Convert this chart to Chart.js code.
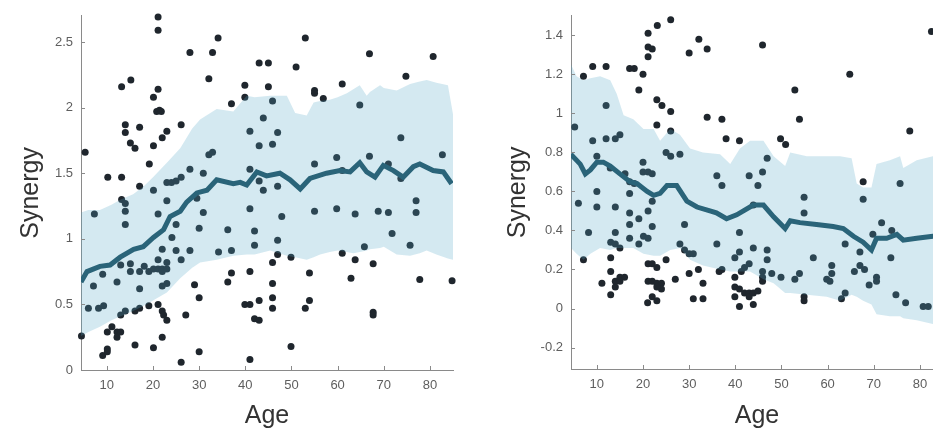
<!DOCTYPE html>
<html>
<head>
<meta charset="utf-8">
<script src="https://cdn.jsdelivr.net/npm/chart.js@4.4.1/dist/chart.umd.min.js"></script>
<style>
    html, body { margin: 0; padding: 0; background: #fff; overflow: hidden; }
    body { width: 933px; height: 428px; position: relative; }
    canvas { position: absolute; top: 0; }
    #left { left: 0; width: 470px; height: 428px; }
    #right { left: 480px; width: 480px; height: 428px; }
</style>
</head>
<body>
<canvas id="left" width="470" height="428"></canvas>
<canvas id="right" width="480" height="428"></canvas>
<script>
// Ticks
const xTicks = [10, 20, 30, 40, 50, 60, 70, 80];
const leftYTicks = [0, 0.5, 1, 1.5, 2, 2.5];
const rightYTicks = [-0.2, 0, 0.2, 0.4, 0.6, 0.8, 1, 1.2, 1.4];

// Panneau gauche : points individuels
const leftAge = [5.3, 7.3, 10.2, 13.2, 13.2, 15.2, 14.0, 14.0, 15.1, 16.1, 17.1, 17.1, 13.2, 14.0, 14.0, 19.2, 20.1, 20.1, 21.1, 21.1,
    21.1, 20.8, 21.4, 21.8, 22.0, 23.0, 20.1, 21.1, 23.0, 24.0, 25.0, 23.0, 26.1, 26.1, 28.0, 28.0, 29.5, 30.9, 30.9, 32.1,
    32.9, 34.1, 32.1, 32.9, 37.0, 39.9, 39.9, 43.0, 45.0, 45.0, 45.9, 43.9, 41.0, 47.0, 43.0, 45.9, 51.0, 53.0, 55.0, 55.0,
    56.9, 61.0, 64.8, 66.9, 74.8, 80.7, 73.7, 82.7, 41.0, 43.0, 43.9, 47.0, 55.0, 59.8, 61.0, 66.9, 71.0, 73.7, 77.0, 77.0,
    41.0, 47.9, 55.0, 59.8, 63.8, 68.8, 71.0, 14.0, 25.0, 24.1, 22.0, 25.0, 28.0, 26.1, 30.0, 36.2, 34.2, 37.0, 36.2, 37.0,
    9.1, 12.2, 13.0, 15.1, 15.1, 17.1, 18.1, 19.1, 20.1, 21.1, 21.1, 22.0, 22.0, 23.0, 23.0, 22.0, 23.0, 17.1, 7.1, 6.0,
    8.2, 9.3, 4.5, 13.0, 14.0, 16.1, 17.1, 19.1, 21.1, 22.0, 22.3, 23.0, 27.1, 29.0, 30.0, 11.1, 10.1, 12.2, 12.2, 13.0,
    10.1, 9.1, 10.1, 16.1, 20.1, 22.0, 26.1, 30.0, 42.0, 42.0, 47.0, 47.0, 45.9, 49.9, 71.8, 75.7, 65.8, 61.0, 63.8, 67.7,
    41.0, 45.9, 45.9, 45.9, 53.9, 53.9, 53.0, 62.9, 77.8, 84.8, 39.9, 41.0, 43.0, 42.0, 43.0, 67.7, 67.7, 49.9, 41.0];
const leftSyn = [1.66, 1.19, 1.47, 1.47, 2.16, 2.21, 1.87, 1.81, 1.73, 1.69, 1.85, 1.40, 1.30, 1.27, 1.21, 1.57, 1.71, 2.08, 2.14, 2.69,
    2.59, 1.97, 1.98, 1.97, 1.77, 1.82, 1.37, 1.19, 1.43, 1.43, 1.44, 1.29, 1.47, 1.87, 1.53, 2.42, 1.31, 1.50, 1.20, 2.22,
    2.42, 2.53, 1.64, 1.66, 2.03, 2.17, 2.08, 2.34, 2.34, 2.16, 2.05, 1.92, 1.82, 1.81, 1.71, 1.72, 2.31, 2.53, 2.13, 2.11,
    2.07, 2.18, 2.02, 2.41, 2.24, 2.39, 1.77, 1.64, 1.53, 1.44, 1.37, 1.40, 1.57, 1.62, 1.52, 1.63, 1.57, 1.46, 1.29, 1.20,
    1.23, 1.17, 1.21, 1.23, 1.19, 1.21, 1.20, 1.11, 1.11, 1.01, 0.92, 0.91, 0.91, 0.84, 1.08, 1.07, 0.90, 0.91, 0.67, 0.74,
    0.73, 0.67, 0.80, 0.81, 0.75, 0.75, 0.79, 0.75, 0.77, 0.84, 0.77, 0.77, 0.75, 0.82, 0.77, 0.64, 0.66, 0.62, 0.64, 0.47,
    0.47, 0.49, 0.26, 0.42, 0.45, 0.45, 0.47, 0.49, 0.50, 0.45, 0.42, 0.38, 0.42, 0.65, 0.55, 0.33, 0.29, 0.29, 0.25, 0.29,
    0.16, 0.11, 0.14, 0.19, 0.17, 0.25, 0.06, 0.14, 1.06, 0.95, 0.99, 0.88, 0.82, 0.86, 1.04, 0.95, 0.94, 0.89, 0.84, 0.81,
    0.75, 0.66, 0.55, 0.47, 0.74, 0.53, 0.47, 0.70, 0.69, 0.68, 0.50, 0.50, 0.53, 0.39, 0.38, 0.44, 0.42, 0.18, 0.08];

// Panneau gauche : moyenne glissante
const leftLineAge = [4.4, 5.7, 8.5, 10.7, 12.9, 15.8, 17.9, 20.1, 22.3, 23.7, 25.9, 27.3, 29.5, 31.7, 33.8, 37.4, 38.9, 40.3, 42.5,
    44.6, 47.5, 49.7, 51.9, 54.0, 57.6, 60.5, 62.7, 64.8, 66.3, 68.1, 69.9, 72.1, 74.2, 76.4, 77.8, 80.7, 82.9, 84.7];
const leftLine = [0.67, 0.75, 0.79, 0.80, 0.86, 0.92, 0.94, 1.01, 1.07, 1.17, 1.21, 1.28, 1.35, 1.37, 1.45, 1.42, 1.43, 1.41, 1.51,
    1.48, 1.50, 1.45, 1.38, 1.46, 1.50, 1.52, 1.51, 1.58, 1.51, 1.47, 1.56, 1.52, 1.47, 1.55, 1.57, 1.52, 1.51, 1.42];

// Panneau gauche : bande
const leftBandAge = [4.4, 6, 8.5, 11, 13, 15.7, 18, 20, 23, 25.9, 28.5, 30.2, 33.8, 37.4, 40.3, 42, 45.4, 49, 50.8, 53.3,
    54.8, 56.2, 58.3, 60, 62, 63.4, 64.8, 66.3, 67, 69.2, 70, 72.8, 75.7, 77.8, 79.3, 81.4, 83.9, 85];
const leftUpper = [1.20, 1.22, 1.22, 1.26, 1.30, 1.34, 1.40, 1.47, 1.58, 1.69, 1.84, 1.91, 1.99, 1.97, 2.09, 2.08, 2.09, 2.09, 1.96, 1.94,
    2.04, 2.05, 2.06, 2.08, 2.11, 2.14, 2.17, 2.09, 2.12, 2.17, 2.15, 2.13, 2.18, 2.20, 2.21, 2.19, 2.17, 1.95];
const leftLower = [0.26, 0.29, 0.33, 0.38, 0.41, 0.45, 0.49, 0.53, 0.59, 0.70, 0.78, 0.82, 0.84, 0.87, 0.88, 0.88, 0.91, 0.87, 0.86, 0.84,
    0.86, 0.88, 0.90, 0.91, 0.90, 0.89, 0.90, 0.91, 0.92, 0.93, 0.94, 0.88, 0.87, 0.89, 0.91, 0.88, 0.85, 0.84];

// Panneau droit : points individuels
const rightAge = [5.2, 7.1, 9.1, 12.0, 12.0, 9.1, 12.0, 14.0, 15.0, 10.0, 12.9, 17.1, 18.1, 20.0, 19.1, 21.1, 21.1, 22.0, 21.1, 23.1,
    26.0, 23.0, 24.1, 26.0, 23.0, 26.0, 25.0, 26.0, 28.0, 30.0, 32.1, 33.9, 33.9, 20.0, 20.0, 21.1, 22.0, 16.1, 17.1, 18.1,
    17.1, 10.0, 6.0, 10.0, 14.0, 17.1, 21.1, 22.0, 36.0, 45.9, 64.8, 52.9, 53.9, 82.5, 77.8, 37.1, 38.0, 40.9, 49.8, 50.9,
    46.9, 45.9, 44.9, 43.0, 37.1, 54.9, 54.9, 67.7, 67.7, 75.7, 8.2, 7.1, 17.1, 19.1, 22.0, 14.0, 17.1, 19.1, 20.1, 21.1,
    13.0, 14.0, 15.0, 13.0, 25.0, 29.0, 28.0, 29.0, 30.0, 30.9, 36.0, 36.5, 13.0, 11.1, 14.0, 15.0, 16.0, 15.0, 14.0, 13.0,
    21.1, 22.0, 23.0, 21.1, 22.0, 23.0, 24.0, 24.0, 23.0, 21.0, 22.0, 23.0, 27.0, 30.0, 32.0, 33.0, 30.9, 33.0, 43.9, 40.9,
    43.9, 40.9, 39.9, 46.9, 46.9, 43.0, 42.0, 41.3, 37.1, 39.9, 39.9, 40.9, 42.0, 43.0, 43.0, 43.9, 39.9, 40.9, 43.9, 45.9,
    45.9, 45.9, 47.9, 49.9, 44.9, 52.9, 53.9, 54.9, 54.9, 56.9, 60.9, 60.9, 59.8, 60.5, 63.8, 63.8, 63.0, 65.8, 67.0, 68.0,
    67.0, 69.0, 70.6, 70.6, 69.8, 71.7, 73.9, 73.7, 74.8, 76.9, 80.7, 81.8];
const rightSyn = [0.93, 1.19, 1.24, 1.24, 1.04, 0.86, 0.87, 0.87, 0.89, 0.78, 0.72, 1.23, 1.23, 1.20, 1.12, 1.41, 1.34, 1.33, 1.29, 1.45,
    1.48, 1.07, 1.04, 1.01, 0.94, 0.91, 0.80, 0.78, 0.79, 1.31, 1.38, 1.33, 0.98, 0.75, 0.70, 0.70, 0.69, 0.69, 0.65, 0.64,
    0.59, 0.60, 0.54, 0.52, 0.52, 0.49, 0.50, 0.55, 0.68, 1.35, 1.20, 1.12, 0.97, 1.42, 0.91, 0.97, 0.87, 0.86, 0.87, 0.84,
    0.77, 0.70, 0.63, 0.68, 0.63, 0.57, 0.49, 0.65, 0.56, 0.64, 0.39, 0.25, 0.43, 0.46, 0.42, 0.39, 0.36, 0.33, 0.37, 0.36,
    0.34, 0.33, 0.31, 0.26, 0.25, 0.43, 0.33, 0.30, 0.28, 0.28, 0.33, 0.19, 0.19, 0.13, 0.14, 0.16, 0.16, 0.14, 0.11, 0.07,
    0.23, 0.23, 0.21, 0.14, 0.14, 0.13, 0.13, 0.10, 0.11, 0.03, 0.06, 0.04, 0.15, 0.18, 0.20, 0.13, 0.05, 0.05, 0.53, 0.39,
    0.31, 0.29, 0.26, 0.30, 0.25, 0.23, 0.21, 0.19, 0.20, 0.16, 0.11, 0.10, 0.08, 0.08, 0.06, 0.08, 0.06, 0.01, 0.02, 0.19,
    0.16, 0.14, 0.18, 0.16, 0.09, 0.15, 0.18, 0.06, 0.04, 0.26, 0.22, 0.18, 0.15, 0.14, 0.33, 0.08, 0.05, 0.19, 0.22, 0.20,
    0.29, 0.12, 0.16, 0.14, 0.38, 0.44, 0.40, 0.26, 0.07, 0.03, 0.01, 0.01];

// Panneau droit : moyenne glissante
const rightLineAge = [4.4, 6.4, 7.5, 8.6, 10.0, 11.4, 12.9, 15.0, 17.2, 18.7, 20.9, 22.3, 23.7, 25.2, 27.3, 29.5, 31.7, 34.5, 35.9,
    38.1, 40.3, 43.9, 46.1, 48.3, 50.8, 51.9, 54.0, 57.6, 61.2, 63.4, 65.6, 67.7, 69.5, 70.6, 72.8, 75.0, 76.4, 79.3, 82.8, 85];
const rightLine = [0.79, 0.74, 0.69, 0.71, 0.75, 0.75, 0.73, 0.69, 0.65, 0.64, 0.60, 0.58, 0.59, 0.63, 0.63, 0.55, 0.52, 0.50, 0.49,
    0.46, 0.48, 0.53, 0.53, 0.47, 0.41, 0.45, 0.44, 0.43, 0.42, 0.41, 0.37, 0.34, 0.30, 0.36, 0.36, 0.38, 0.35, 0.36, 0.37, 0.37];

// Panneau droit : bande
const rightBandAge = [4.4, 5.6, 7.1, 8.6, 10.7, 12.9, 14.3, 15.8, 17.9, 20.1, 22.3, 23.7, 25.9, 28, 30.2, 33, 36.7, 38.9, 41, 43.2,
    46.1, 48.3, 50.8, 51.9, 55.5, 59.8, 62.7, 65.2, 66.3, 67.7, 69.5, 70.6, 73.5, 75.7, 76.4, 79.3, 82.8, 85];
const rightUpper = [1.25, 1.19, 1.17, 1.18, 1.19, 1.17, 1.10, 0.99, 0.97, 0.92, 0.92, 0.86, 0.92, 0.89, 0.82, 0.80, 0.79, 0.74, 0.82, 0.86,
    0.86, 0.78, 0.73, 0.80, 0.78, 0.78, 0.78, 0.77, 0.64, 0.62, 0.62, 0.74, 0.76, 0.78, 0.72, 0.76, 0.78, 0.78];
const rightLower = [0.31, 0.28, 0.25, 0.28, 0.31, 0.30, 0.31, 0.31, 0.31, 0.28, 0.27, 0.27, 0.30, 0.31, 0.25, 0.22, 0.20, 0.19, 0.19, 0.19,
    0.15, 0.13, 0.08, 0.08, 0.07, 0.06, 0.04, 0.07, 0.06, 0.04, 0.02, -0.03, -0.04, -0.04, -0.05, -0.06, -0.08, -0.09];

const FONT = '"Liberation Sans", Arial, sans-serif';
const DOT_COLOR = '#1f262d';
const LINE_COLOR = '#2a6479';
const BAND_COLOR = 'rgba(83, 167, 199, 0.25)';
const AXIS_COLOR = '#8a8a8a';

/**
 * Associe deux tableaux en points {x, y}
 */
function toPoints(xs, ys) {
    return xs.map((x, i) => ({ x: x, y: ys[i] }));
}

/**
 * Petites graduations tournées vers l'intérieur (style MATLAB)
 */
const inwardTicks = {
    id: 'inwardTicks',
    afterDatasetsDraw(chart) {
        const { ctx, chartArea, scales } = chart;
        ctx.save();
        ctx.strokeStyle = AXIS_COLOR;
        ctx.lineWidth = 1;
        ctx.beginPath();
        scales.x.ticks.forEach(t => {
            const px = Math.round(scales.x.getPixelForValue(t.value)) + 0.5;
            ctx.moveTo(px, chartArea.bottom);
            ctx.lineTo(px, chartArea.bottom - 4);
        });
        scales.y.ticks.forEach(t => {
            const py = Math.round(scales.y.getPixelForValue(t.value)) + 0.5;
            ctx.moveTo(chartArea.left, py);
            ctx.lineTo(chartArea.left + 4, py);
        });
        ctx.stroke();
        ctx.restore();
    }
};

/**
 * Crée un panneau Synergy / Age
 */
function createPanel(canvas, panel) {
    return new Chart(canvas.getContext('2d'), {
        type: 'scatter',
        data: {
            datasets: [
                {
                    type: 'line',
                    data: toPoints(panel.lineAge, panel.line),
                    borderColor: LINE_COLOR,
                    borderWidth: 5,
                    pointRadius: 0,
                    tension: 0,
                    fill: false,
                    order: 0
                },
                {
                    type: 'line',
                    data: toPoints(panel.bandAge, panel.upper),
                    borderWidth: 0,
                    pointRadius: 0,
                    backgroundColor: BAND_COLOR,
                    fill: '+1',
                    order: 1
                },
                {
                    type: 'line',
                    data: toPoints(panel.bandAge, panel.lower),
                    borderWidth: 0,
                    pointRadius: 0,
                    fill: false,
                    order: 2
                },
                {
                    data: toPoints(panel.age, panel.syn),
                    backgroundColor: DOT_COLOR,
                    borderWidth: 0,
                    pointRadius: 3.5,
                    clip: false,
                    order: 3
                }
            ]
        },
        options: {
            responsive: false,
            animation: false,
            layout: { padding: panel.padding },
            plugins: {
                legend: { display: false },
                tooltip: { enabled: false }
            },
            scales: {
                x: {
                    type: 'linear',
                    min: 4.4,
                    max: 85,
                    afterBuildTicks: s => { s.ticks = xTicks.map(v => ({ value: v })); },
                    afterFit: s => { s.height = panel.xHeight; },
                    grid: { display: false, drawTicks: false },
                    border: { display: true, color: AXIS_COLOR, width: 1 },
                    ticks: {
                        padding: 8,
                        color: '#5e5e5e',
                        font: { family: FONT, size: 13 },
                        callback: v => String(v)
                    },
                    title: {
                        display: true,
                        text: 'Age',
                        color: '#333',
                        font: { family: FONT, size: 25 },
                        padding: { top: 0, bottom: -3 }
                    }
                },
                y: {
                    type: 'linear',
                    min: panel.yMin,
                    max: panel.yMax,
                    afterBuildTicks: s => { s.ticks = panel.yTicks.map(v => ({ value: v })); },
                    afterFit: s => { s.width = panel.yWidth; },
                    grid: { display: false, drawTicks: false },
                    border: { display: true, color: AXIS_COLOR, width: 1 },
                    ticks: {
                        padding: 8,
                        color: '#5e5e5e',
                        font: { family: FONT, size: 13 },
                        callback: v => String(v)
                    },
                    title: {
                        display: true,
                        text: 'Synergy',
                        color: '#333',
                        font: { family: FONT, size: 25 },
                        padding: { top: panel.titleOffset, bottom: 0 }
                    }
                }
            }
        },
        plugins: [inwardTicks]
    });
}

createPanel(document.getElementById('left'), {
    age: leftAge, syn: leftSyn,
    lineAge: leftLineAge, line: leftLine,
    bandAge: leftBandAge, upper: leftUpper, lower: leftLower,
    yMin: 0, yMax: 2.7, yTicks: leftYTicks,
    padding: { left: 0, top: 12, right: 17, bottom: 0 },
    yWidth: 81, xHeight: 58, titleOffset: 16
});

createPanel(document.getElementById('right'), {
    age: rightAge, syn: rightSyn,
    lineAge: rightLineAge, line: rightLine,
    bandAge: rightBandAge, upper: rightUpper, lower: rightLower,
    yMin: -0.31, yMax: 1.5, yTicks: rightYTicks,
    padding: { left: 0, top: 13, right: 17, bottom: 0 },
    yWidth: 91, xHeight: 59, titleOffset: 23
});
</script>
</body>
</html>
